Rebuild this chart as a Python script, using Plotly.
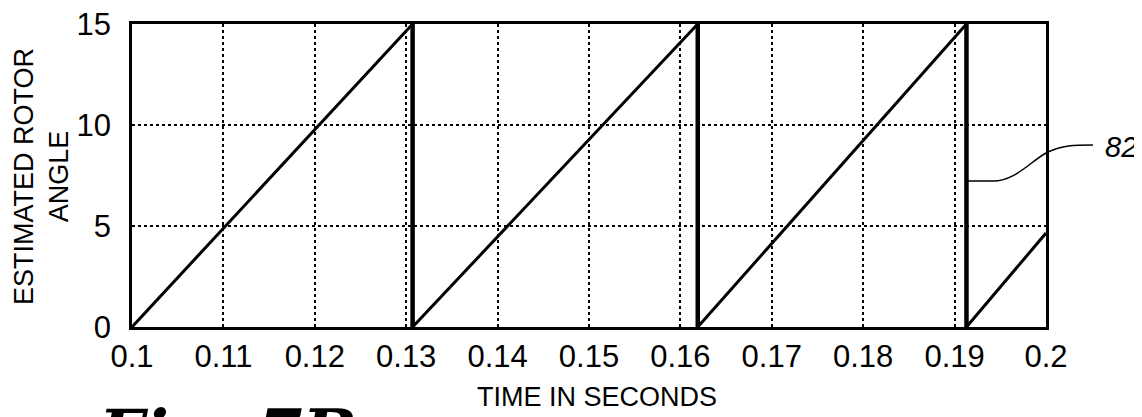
import plotly.graph_objects as go

# ---- data ----
t_start = 0.1
t_end = 0.2
reset_times = [0.1307, 0.1619, 0.1913]   # times where the estimated angle wraps back to 0
peak_angle = 15
end_angle = 4.65                          # angle reached at t = 0.2
x_ticks = [0.1, 0.11, 0.12, 0.13, 0.14, 0.15, 0.16, 0.17, 0.18, 0.19, 0.2]
x_tick_labels = ["0.1", "0.11", "0.12", "0.13", "0.14", "0.15", "0.16", "0.17", "0.18", "0.19", "0.2"]
y_ticks = [0, 5, 10, 15]
y_tick_labels = ["0", "5", "10", "15"]

# ramps
ramp_x, ramp_y = [t_start], [0]
for tr in reset_times:
    ramp_x += [tr, None, tr]
    ramp_y += [peak_angle, None, 0]
ramp_x.append(t_end)
ramp_y.append(end_angle)

# vertical resets (drawn heavier)
drop_x, drop_y = [], []
for tr in reset_times:
    drop_x += [tr, tr, None]
    drop_y += [peak_angle, 0, None]

FONT = "Liberation Sans, Arial, sans-serif"

fig = go.Figure()
fig.add_trace(go.Scatter(x=ramp_x, y=ramp_y, mode="lines",
                         line=dict(color="black", width=3), connectgaps=False,
                         showlegend=False, hoverinfo="skip", cliponaxis=False))
fig.add_trace(go.Scatter(x=drop_x, y=drop_y, mode="lines",
                         line=dict(color="black", width=4.5), connectgaps=False,
                         showlegend=False, hoverinfo="skip", cliponaxis=False))

# the page body adds an 8px offset; target pixel coordinates are compensated
OFF = 8
W, H = 1142 - OFF, 417 - OFF
L, R, T, B = 132 - OFF, 96, 24 - OFF, 90
pw = W - L - R
ph = H - T - B

def px(xp):
    return (xp - OFF - L) / pw

def py(yp):
    return (H - B - (yp - OFF)) / ph

fig.update_layout(
    width=W, height=H,
    margin=dict(l=L, r=R, t=T, b=B, autoexpand=False),
    paper_bgcolor="white", plot_bgcolor="white",
    font=dict(family=FONT, color="black", size=27),
    xaxis=dict(range=[t_start, t_end + 1e-6], tickvals=x_ticks, ticktext=x_tick_labels,
               showgrid=True, gridcolor="black", gridwidth=2, griddash="dot",
               showline=True, linecolor="black", linewidth=2.5, mirror=True,
               ticks="", zeroline=False, ticklabelstandoff=0, automargin=False,
               ticklabeloverflow="allow",
               tickfont=dict(family=FONT, size=31)),
    yaxis=dict(range=[-1e-4, peak_angle + 1e-3], tickvals=y_ticks, ticktext=y_tick_labels,
               showgrid=True, gridcolor="black", gridwidth=2, griddash="dot",
               showline=True, linecolor="black", linewidth=2.5, mirror=True,
               ticks="", zeroline=False, ticklabelstandoff=12, automargin=False,
               ticklabeloverflow="allow",
               tickfont=dict(family=FONT, size=31)),
    annotations=[
        dict(text="TIME IN SECONDS", xref="paper", yref="paper",
             x=px(597), y=py(397), xanchor="center", yanchor="middle",
             showarrow=False, font=dict(family=FONT, size=27)),
        dict(text="ESTIMATED ROTOR<br>ANGLE", xref="paper", yref="paper",
             x=px(41), y=py(177), xanchor="center", yanchor="middle",
             textangle=-90, showarrow=False, font=dict(family=FONT, size=27)),
        dict(text="<i>82</i>", xref="paper", yref="paper",
             x=px(1103), y=py(147), xanchor="left", yanchor="middle",
             showarrow=False, font=dict(family=FONT, size=29)),
        dict(text="<b><i>Fig. 7B</i></b>", xref="paper", yref="paper",
             x=px(95), y=py(393), xanchor="left", yanchor="top",
             showarrow=False, font=dict(family="DejaVu Serif", size=64)),
    ],
    shapes=[
        dict(type="path", xref="paper", yref="paper",
             path=(f"M {px(968)},{py(181)} L {px(993)},{py(181)} "
                   f"C {px(1015)},{py(181)} {px(1030)},{py(162)} {px(1046)},{py(153)} "
                   f"C {px(1062)},{py(145)} {px(1075)},{py(145)} {px(1093)},{py(145)}"),
             line=dict(color="black", width=1.5)),
    ],
)

fig.write_html("out.html")
